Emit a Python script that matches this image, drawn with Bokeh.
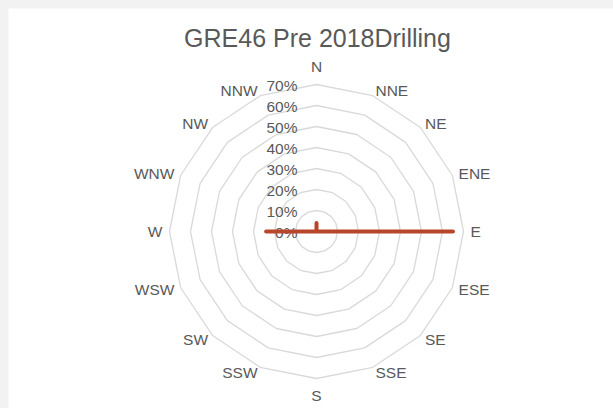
import math
from bokeh.plotting import figure
from bokeh.models import Range1d, ColumnDataSource
from bokeh.core.properties import value
from bokeh.embed import file_html
from bokeh.resources import INLINE

# ---- data ----
directions = ["N", "NNE", "NE", "ENE", "E", "ESE", "SE", "SSE",
              "S", "SSW", "SW", "WSW", "W", "WNW", "NW", "NNW"]
values = [4, 0, 0, 0, 65, 0, 0, 0, 0, 0, 0, 0, 24, 0, 0, 0]
ring_levels = [10, 20, 30, 40, 50, 60, 70]
tick_levels = [0, 10, 20, 30, 40, 50, 60, 70]
tick_labels = ["0%", "10%", "20%", "30%", "40%", "50%", "60%", "70%"]
title_text = "GRE46 Pre 2018Drilling"

FONT = "Liberation Sans"
TXT = "#595959"
GRID = "#d9d9d9"
LINE = "#b8462a"

W, H = 605, 400
CX, CY = 308, 223          # centre of the radar in figure pixels
RMAX = 147.0               # pixel radius of the 70% ring
K = RMAX / max(ring_levels)

p = figure(width=W, height=H, output_backend="svg", toolbar_location=None,
           x_range=Range1d(-CX, W - CX), y_range=Range1d(-(H - CY), CY),
           min_border=0)
p.axis.visible = False
p.grid.visible = False
p.outline_line_color = None
p.background_fill_color = "white"
p.border_fill_color = "white"

n = len(directions)
angles = [2 * math.pi * i / n for i in range(n)]

# rings
for lv in ring_levels:
    xs = [lv * K * math.sin(a) for a in angles] + [0]
    ys = [lv * K * math.cos(a) for a in angles] + [0]
    xs[-1], ys[-1] = xs[0], ys[0]
    p.line(xs, ys, line_color=GRID, line_width=1.3)

# radial tick labels
p.text(x=[-19] * len(tick_levels), y=[lv * K - 1 for lv in tick_levels], text=tick_labels,
       text_align="right", text_baseline="middle", text_color=TXT,
       text_font=value(FONT), text_font_size="15.5px")

# direction labels
lx, ly, la, lb = [], [], [], []
for d, a in zip(directions, angles):
    vx, vy = RMAX * math.sin(a), RMAX * math.cos(a)
    s, c = math.sin(a), math.cos(a)
    if abs(s) < 0.01:
        lx.append(vx)
        la.append("center")
        ly.append(vy + (10 if c > 0 else -8))
        lb.append("bottom" if c > 0 else "top")
    else:
        off = 2 + 5 * s * s
        lx.append(vx + off if s > 0 else vx - off)
        la.append("left" if s > 0 else "right")
        ly.append(vy + 5.5 * c)
        lb.append("middle")
src = ColumnDataSource(dict(x=lx, y=ly, t=directions, a=la, b=lb))
p.text(x="x", y="y", text="t", text_align="a", text_baseline="b", source=src,
       text_color=TXT, text_font=value(FONT), text_font_size="15.5px")

# data series
dx = [v * K * math.sin(a) for v, a in zip(values, angles)]
dy = [v * K * math.cos(a) for v, a in zip(values, angles)]
dx.append(dx[0]); dy.append(dy[0])
p.line(dx, dy, line_color=LINE, line_width=4, line_join="round", line_cap="round")

# title
p.text(x=[1], y=[CY - 29], text=[title_text], text_align="center", text_baseline="middle",
       text_color=TXT, text_font=value(FONT), text_font_size="25px")

html = file_html(p, INLINE)
html = html.replace(
    "</head>",
    "<style>html,body{background:#f2f2f2;overflow:hidden}"
    "body{padding:8px 0 0 8px !important;margin:0 !important}</style></head>", 1)
open("out.html", "w").write(html)
